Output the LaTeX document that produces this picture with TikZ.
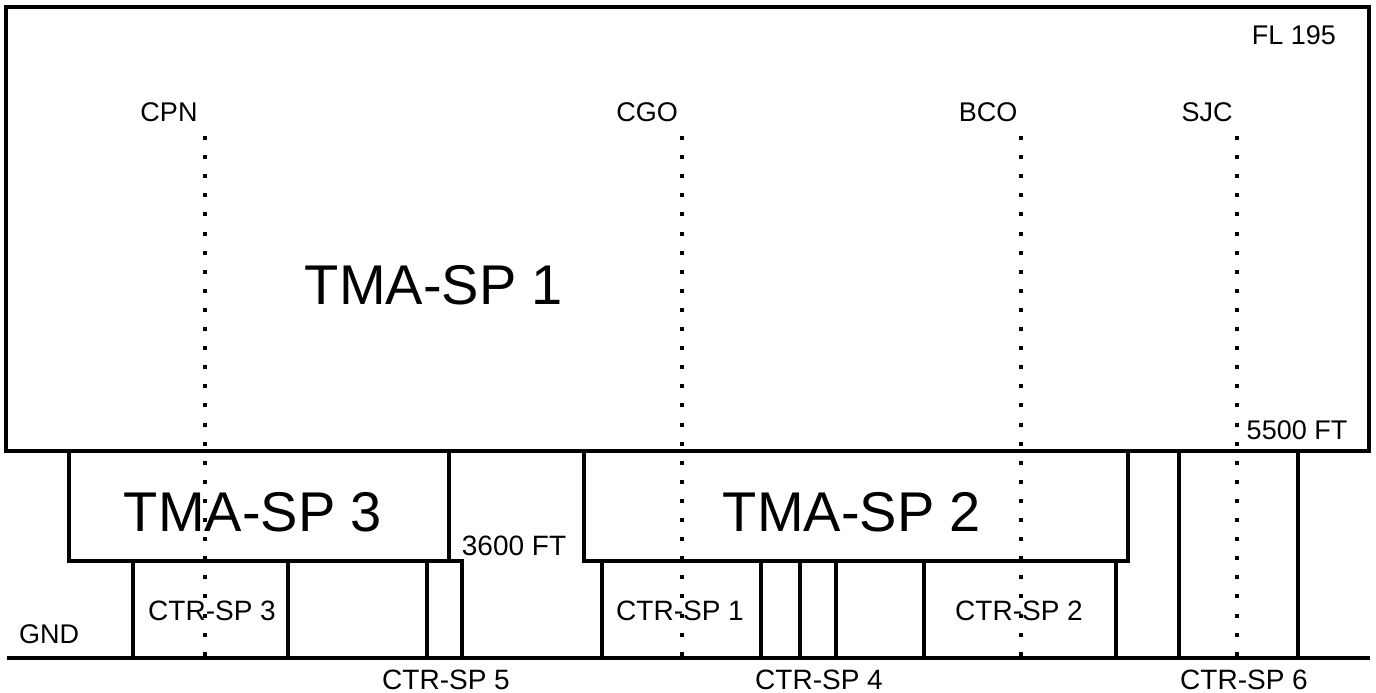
\documentclass[tikz,border=0pt]{standalone}
\usepackage{fontspec}
\setmainfont{Liberation Sans}
\usepackage{tikz}
\usetikzlibrary{positioning}

\begin{document}
\begin{tikzpicture}[
    x=1pt, y=-1pt,
    zone/.style={draw=black, line width=3.6pt},
    vor/.style={draw=black, line width=4pt, dash pattern=on 4pt off 15.1pt},
    lbl/.style={inner sep=0pt, font=\fontsize{27}{30}\selectfont},
    ctr/.style={inner sep=0pt, font=\fontsize{28}{31}\selectfont},
    tma/.style={inner sep=0pt, font=\fontsize{56}{60}\selectfont}
]
\useasboundingbox (0,0) rectangle (1376,693);

% airspace blocks
\draw[zone] (6,7) rectangle (1369,451);
\draw[zone] (69,451) rectangle (449,561);
\draw[zone] (584,451) rectangle (1128,561);
\draw[zone] (133,561) rectangle (288,658);
\draw[zone] (427,561) rectangle (462,658);
\draw[zone] (449,561) -- (462,561);
\draw[zone] (602,561) rectangle (761,658);
\draw[zone] (761,561) rectangle (800,658);
\draw[zone] (800,561) rectangle (836,658);
\draw[zone] (924,561) rectangle (1116,658);
\draw[zone] (1179,451) rectangle (1298,658);

% ground
\coordinate (gndL) at (7,658);
\coordinate (gndR) at (1370,658);
\draw[zone] (gndL) -- (gndR);

% labels
\node[tma] (tma1) at (434,285) {TMA-SP 1};
\node[tma] (tma3) at (253,512) {TMA-SP 3};
\node[tma] (tma2) at (852,512) {TMA-SP 2};
\node[lbl] (fl) at (1294,35) {FL 195};
\node[lbl] (ft55) at (1297,430) {5500 FT};
\node[ctr] (ft36) at (514,546) {3600 FT};
\node[lbl] (gnd) at (49,634) {GND};
\node[ctr] (ctr3) at (212,611) {CTR-SP 3};
\node[ctr] (ctr1) at (680,611) {CTR-SP 1};
\node[ctr] (ctr2) at (1019,611) {CTR-SP 2};
\node[ctr] (ctr5) at (446,680) {CTR-SP 5};
\node[ctr] (ctr4) at (819,680) {CTR-SP 4};
\node[ctr] (ctr6) at (1244,680) {CTR-SP 6};

% fixes and their dotted tracks
\foreach \x/\name/\lx in {205/CPN/169, 682/CGO/647, 1021/BCO/988, 1237/SJC/1207}{
  \node[lbl] (fix\name) at (\lx,112) {\name};
  \coordinate (top\name) at (\x,136);
  \draw[vor] (top\name) -- (top\name |- gndL);
}

\end{tikzpicture}
\end{document}
